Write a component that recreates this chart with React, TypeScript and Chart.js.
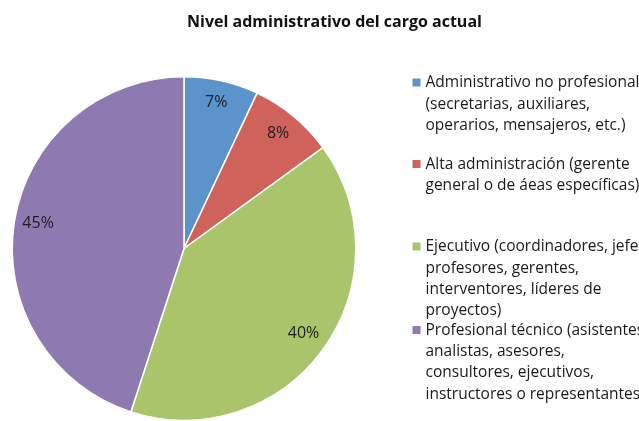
import React, { useEffect, useRef } from "react";
import { Chart, registerables } from "chart.js";

Chart.register(...registerables);

const title = "Nivel administrativo del cargo actual";
const categories = [
  "Administrativo no profesional",
  "Alta administración",
  "Ejecutivo",
  "Profesional técnico",
];
const legendLines = [
  ["Administrativo no profesional", "(secretarias, auxiliares,", "operarios, mensajeros, etc.)"],
  ["Alta administración (gerente", "general o de áeas específicas)"],
  ["Ejecutivo (coordinadores, jefes,", "profesores, gerentes,", "interventores, líderes de", "proyectos)"],
  ["Profesional técnico (asistentes,", "analistas, asesores,", "consultores, ejecutivos,", "instructores o representantes)"],
];
const values = [7, 8, 40, 45];
const colors = ["#5b93cb", "#cf625a", "#a9c46a", "#8f79b1"];

const FONT = "'Open Sans', Lato, sans-serif";
const legendTops = [83, 164.5, 247, 330.5];
const lineH = 21.2;

const drawPlugin = {
  id: "customDraw",
  afterDraw(chart: any) {
    const ctx = chart.ctx as CanvasRenderingContext2D;
    ctx.save();
    // title
    ctx.fillStyle = "#111";
    ctx.font = `bold 16px ${FONT}`;
    ctx.textAlign = "center";
    ctx.textBaseline = "middle";
    ctx.fillText(title, 334.5, 22);

    // slice labels
    const meta = chart.getDatasetMeta(0);
    ctx.font = `16px ${FONT}`;
    ctx.fillStyle = "#1e1e28";
    meta.data.forEach((arc: any, i: number) => {
      const p = arc.getProps(["x", "y", "startAngle", "endAngle", "outerRadius"], true);
      const mid = (p.startAngle + p.endAngle) / 2;
      const r = p.outerRadius * 0.86;
      ctx.fillText(`${values[i]}%`, p.x + Math.cos(mid) * r, p.y + Math.sin(mid) * r - 1.5);
    });

    // legend
    ctx.textAlign = "left";
    ctx.font = `15.5px ${FONT}`;
    legendLines.forEach((lines, i) => {
      const y0 = legendTops[i];
      ctx.fillStyle = colors[i];
      ctx.fillRect(412.5, y0 - 4.5, 8, 8);
      ctx.fillStyle = "#1a1a1a";
      lines.forEach((t, j) => {
        ctx.fillText(t, 425.5, y0 + j * lineH);
      });
    });
    ctx.restore();
  },
};

export default function App() {
  const ref = useRef<HTMLCanvasElement | null>(null);
  useEffect(() => {
    if (!ref.current) return;
    const chart = new Chart(ref.current, {
      type: "pie",
      data: {
        labels: categories,
        datasets: [
          {
            data: values,
            backgroundColor: colors,
            borderColor: "#ffffff",
            borderWidth: 1.5,
          },
        ],
      },
      options: {
        responsive: false,
        animation: false,
        layout: { padding: { left: 11, top: 76, right: 282, bottom: 0 } },
        plugins: {
          legend: { display: false },
          title: { display: false },
          tooltip: { enabled: false },
        },
      },
      plugins: [drawPlugin],
    });
    return () => chart.destroy();
  }, []);
  return (
    <div style={{ position: "fixed", left: 0, top: 0, width: 639, height: 421, background: "#fff" }}>
      <canvas ref={ref} width={639} height={421} style={{ display: "block" }} />
    </div>
  );
}
